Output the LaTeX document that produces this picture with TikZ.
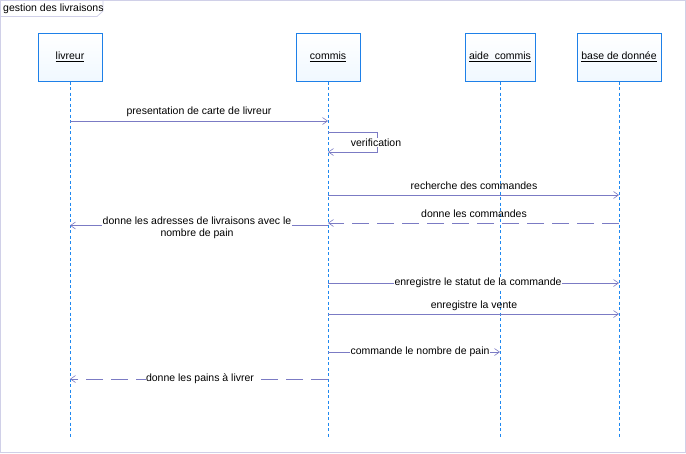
\documentclass[tikz,border=0pt]{standalone}
\usepackage{fontspec}
\setmainfont{Liberation Sans}
\usetikzlibrary{arrows.meta}
\definecolor{msg}{HTML}{7B7BC4}
\definecolor{life}{HTML}{1E88F0}
\definecolor{boxbd}{HTML}{1E80E8}
\definecolor{boxfill}{HTML}{F0F8FF}
\definecolor{frame}{HTML}{D0D0E8}
\tikzset{
  x=1pt, y=-1pt,
  every node/.style={font=\fontsize{10.5}{11.5}\selectfont, text=black},
  lifebox/.style={draw=boxbd, line width=1pt, top color=white, bottom color=boxfill, minimum width=#1, minimum height=48pt, inner sep=0pt},
  lifeline/.style={draw=life, line width=0.8pt, dash pattern=on 3pt off 2.5pt},
  call/.style={draw=msg, line width=0.8pt, -{Straight Barb[length=5pt,width=7pt,line width=0.6pt]}},
  reply/.style={call, dash pattern=on 17pt off 8pt},
  onlbl/.style={fill=white, inner sep=0.5pt},
  abovelbl/.style={inner sep=0.5pt},
}
\begin{document}
\begin{tikzpicture}
\useasboundingbox (0,0) rectangle (686,453);
% frame
\draw[frame, line width=1pt] (0.5,0.5) rectangle (685,452);
\draw[frame, line width=0.8pt] (0.5,0.5) -- (103,0.5) -- (103,11) -- (97,16.5) -- (0.5,16.5);
\node[anchor=west, inner sep=0pt] (title) at (3,8.5) {gestion des livraisons};
% lifeline heads
\node[lifebox=64pt] (livreur) at (70,57) {\underline{livreur}};
\node[lifebox=64pt] (commis) at (328,57) {\underline{commis}};
\node[lifebox=70pt] (aide) at (500,57) {\underline{aide\ \ commis}};
\node[lifebox=84pt] (base) at (619,57) {\underline{base de donnée}};
% lifeline ends
\coordinate (livreurE) at (70,438);
\coordinate (commisE) at (328,438);
\coordinate (aideE) at (500,438);
\coordinate (baseE) at (619,438);
\draw[lifeline] (livreur.south) -- (livreurE);
\draw[lifeline] (commis.south) -- (commisE);
\draw[lifeline] (aide.south) -- (aideE);
\draw[lifeline] (base.south) -- (baseE);
% message end points
\coordinate (m1a) at (70,121); \coordinate (m1b) at (328,121);
\coordinate (v1) at (328,132); \coordinate (v2) at (377,132); \coordinate (v3) at (377,152); \coordinate (v4) at (328,152);
\coordinate (m3a) at (328,195); \coordinate (m3b) at (619,195);
\coordinate (m4a) at (619,223); \coordinate (m4b) at (328,223);
\coordinate (m5a) at (328,225.5); \coordinate (m5b) at (70,225.5);
\coordinate (m6a) at (328,283); \coordinate (m6b) at (619,283);
\coordinate (m7a) at (328,314); \coordinate (m7b) at (619,314);
\coordinate (m8a) at (328,352); \coordinate (m8b) at (500,352);
\coordinate (m9a) at (328,379); \coordinate (m9b) at (70,379);
% messages
\draw[call] (m1a) -- (m1b);
\node[abovelbl] (l1) at (199,112) {presentation de carte de livreur};
\draw[call] (v1) -- (v2) -- (v3) -- (v4);
\node[onlbl] (l2) at (376,142.5) {verification};
\draw[call] (m3a) -- (m3b);
\node[abovelbl] (l3) at (474,186) {recherche des commandes};
\draw[reply] (m4a) -- (m4b);
\node[abovelbl] (l4) at (474,214) {donne les commandes};
\draw[call] (m5a) -- (m5b);
\node[onlbl, align=center] (l5) at (197,228) {donne les adresses de livraisons avec le\\nombre de pain};
\draw[call] (m6a) -- (m6b);
\node[onlbl] (l6) at (478,283) {enregistre le statut de la commande};
\draw[call] (m7a) -- (m7b);
\node[abovelbl] (l7) at (474,305.5) {enregistre la vente};
\draw[call] (m8a) -- (m8b);
\node[onlbl] (l8) at (420,352) {commande le nombre de pain};
\draw[reply] (m9a) -- (m9b);
\node[onlbl] (l9) at (200,379) {donne les pains à livrer};
\end{tikzpicture}
\end{document}
